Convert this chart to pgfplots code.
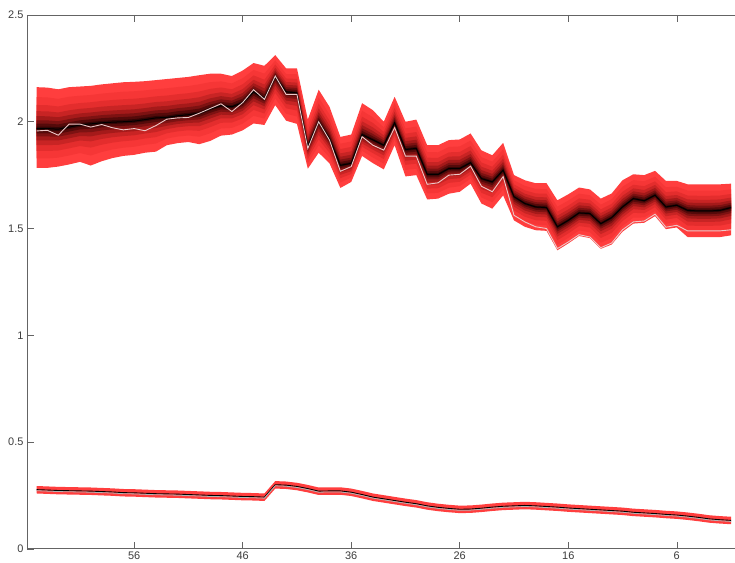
\documentclass[border=0pt]{standalone}
\usepackage{fontspec}
\setmainfont{Liberation Sans}
\usepackage{pgfplots}
\pgfplotsset{compat=1.18}
\usepackage{pgfplotstable}
\usepgfplotslibrary{fillbetween}

\pgfplotstableread{
x lo mid hi act
65 1.784 1.968 2.162 1.957
64 1.784 1.968 2.160 1.960
63 1.790 1.965 2.152 1.937
62 1.800 1.975 2.162 1.989
61 1.812 1.985 2.165 1.989
60 1.795 1.990 2.168 1.975
59 1.815 1.995 2.175 1.987
58 1.830 1.998 2.180 1.972
57 1.840 2.000 2.185 1.962
56 1.845 2.003 2.187 1.968
55 1.855 2.010 2.190 1.958
54 1.860 2.018 2.195 1.982
53 1.890 2.020 2.200 2.012
52 1.900 2.028 2.205 2.018
51 1.905 2.033 2.210 2.020
50 1.895 2.040 2.218 2.040
49 1.910 2.060 2.225 2.062
48 1.935 2.075 2.225 2.084
47 1.940 2.070 2.214 2.048
46 1.960 2.090 2.240 2.090
45 1.992 2.140 2.275 2.150
44 1.985 2.110 2.262 2.105
43 2.078 2.210 2.312 2.214
42 2.005 2.140 2.250 2.128
41 1.990 2.135 2.250 2.128
40 1.780 1.885 2.010 1.875
39 1.855 2.000 2.150 2.000
38 1.805 1.920 2.070 1.914
37 1.690 1.796 1.929 1.768
36 1.718 1.805 1.940 1.790
35 1.840 1.940 2.087 1.930
34 1.806 1.915 2.054 1.890
33 1.777 1.890 2.000 1.867
32 1.890 1.995 2.117 1.973
31 1.744 1.870 2.000 1.839
30 1.750 1.875 2.010 1.839
29 1.636 1.754 1.890 1.707
28 1.640 1.753 1.890 1.714
27 1.663 1.781 1.914 1.750
26 1.672 1.781 1.917 1.754
25 1.710 1.808 1.945 1.792
24 1.617 1.734 1.866 1.698
23 1.593 1.718 1.843 1.672
22 1.655 1.773 1.901 1.743
21 1.538 1.649 1.750 1.562
20 1.508 1.617 1.726 1.531
19 1.492 1.601 1.712 1.508
18 1.489 1.598 1.712 1.500
17 1.398 1.508 1.632 1.406
16 1.430 1.538 1.660 1.437
15 1.465 1.573 1.692 1.471
14 1.455 1.570 1.683 1.460
13 1.405 1.523 1.640 1.410
12 1.425 1.551 1.664 1.432
11 1.485 1.601 1.726 1.494
10 1.523 1.640 1.754 1.531
9 1.527 1.630 1.750 1.535
8 1.558 1.656 1.770 1.567
7 1.497 1.601 1.723 1.506
6 1.505 1.609 1.723 1.515
5 1.460 1.585 1.707 1.489
4 1.460 1.582 1.707 1.489
3 1.460 1.582 1.707 1.489
2 1.460 1.585 1.707 1.489
1 1.468 1.598 1.710 1.494
}\upperfan

\pgfplotstableread{
x lo mid hi act
65 0.259 0.277 0.294 0.272
64 0.257 0.275 0.292 0.270
63 0.255 0.273 0.290 0.268
62 0.254 0.272 0.289 0.267
61 0.253 0.271 0.288 0.266
60 0.252 0.270 0.287 0.265
59 0.250 0.268 0.285 0.263
58 0.248 0.266 0.283 0.261
57 0.245 0.263 0.280 0.258
56 0.244 0.262 0.279 0.257
55 0.242 0.260 0.277 0.255
54 0.240 0.258 0.275 0.253
53 0.239 0.257 0.274 0.252
52 0.238 0.256 0.273 0.251
51 0.236 0.254 0.271 0.249
50 0.234 0.252 0.269 0.247
49 0.232 0.250 0.267 0.245
48 0.231 0.249 0.266 0.244
47 0.229 0.247 0.264 0.242
46 0.227 0.245 0.262 0.240
45 0.226 0.244 0.261 0.239
44 0.224 0.242 0.259 0.237
43 0.282 0.300 0.317 0.295
42 0.280 0.298 0.315 0.293
41 0.274 0.292 0.309 0.287
40 0.264 0.282 0.299 0.277
39 0.252 0.270 0.287 0.265
38 0.253 0.271 0.288 0.266
37 0.253 0.271 0.288 0.266
36 0.247 0.265 0.282 0.260
35 0.236 0.254 0.271 0.249
34 0.224 0.242 0.259 0.237
33 0.216 0.234 0.251 0.229
32 0.208 0.226 0.243 0.221
31 0.200 0.218 0.235 0.213
30 0.193 0.211 0.228 0.206
29 0.183 0.201 0.218 0.196
28 0.176 0.194 0.211 0.189
27 0.171 0.189 0.206 0.184
26 0.167 0.185 0.202 0.180
25 0.168 0.186 0.203 0.181
24 0.172 0.190 0.207 0.185
23 0.177 0.195 0.212 0.190
22 0.181 0.199 0.216 0.194
21 0.183 0.201 0.218 0.196
20 0.185 0.203 0.220 0.198
19 0.183 0.201 0.218 0.196
18 0.180 0.198 0.215 0.193
17 0.177 0.195 0.212 0.190
16 0.173 0.191 0.208 0.186
15 0.170 0.188 0.205 0.183
14 0.167 0.185 0.202 0.180
13 0.164 0.182 0.199 0.177
12 0.161 0.179 0.196 0.174
11 0.158 0.176 0.193 0.171
10 0.153 0.171 0.188 0.166
9 0.150 0.168 0.185 0.163
8 0.147 0.165 0.182 0.160
7 0.143 0.161 0.178 0.156
6 0.140 0.158 0.175 0.153
5 0.135 0.153 0.170 0.148
4 0.129 0.147 0.164 0.142
3 0.122 0.140 0.157 0.135
2 0.118 0.136 0.153 0.131
1 0.115 0.133 0.150 0.128
}\lowerfan

\definecolor{fanc1}{RGB}{255,62,62}
\definecolor{fanc2}{RGB}{246,54,54}
\definecolor{fanc3}{RGB}{228,45,45}
\definecolor{fanc4}{RGB}{200,36,36}
\definecolor{fanc5}{RGB}{165,26,26}
\definecolor{fanc6}{RGB}{125,18,18}
\definecolor{fanc7}{RGB}{85,10,10}
\definecolor{fanc8}{RGB}{50,5,5}
\definecolor{actline}{RGB}{236,200,200}
\definecolor{axgray}{RGB}{100,100,100}
\definecolor{labgray}{RGB}{60,60,60}

\begin{document}
\begin{tikzpicture}
\begin{axis}[
  scale only axis,
  width=708bp, height=534bp,
  x dir=reverse,
  xmin=0.66, xmax=65.88,
  ymin=0, ymax=2.5,
  xtick={6,16,26,36,46,56},
  ytick={0,0.5,1,1.5,2,2.5},
  yticklabels={0,0.5,1,1.5,2,2.5},
  axis x line=box,
  axis y line=left,
  y axis line style={-},
  tick align=inside,
  major tick length=6.7bp,
  tick style={axgray, line width=0.5pt},
  axis line style={axgray, line width=0.6pt},
  ticklabel style={font=\fontsize{11}{12}\selectfont, text=labgray},
  /pgf/number format/assume math mode=true,
  xticklabel style={yshift=0.5bp},
  yticklabel style={xshift=0bp},
  clip=true,
  axis on top,
]
% upper fan bands, outer to inner
\foreach \lev/\f in {1/1.0,2/0.76,3/0.57,4/0.42,5/0.30,6/0.20,7/0.12,8/0.05}{
  \edef\tmp{
    \noexpand\addplot[draw=none, name path=U\lev] table[x=x, y expr=\noexpand\thisrow{mid}+\f*(\noexpand\thisrow{hi}-\noexpand\thisrow{mid})]{\noexpand\upperfan};
    \noexpand\addplot[draw=none, name path=L\lev] table[x=x, y expr=\noexpand\thisrow{mid}+\f*(\noexpand\thisrow{lo}-\noexpand\thisrow{mid})]{\noexpand\upperfan};
    \noexpand\addplot[fill=fanc\lev, draw=none] fill between[of=U\lev\space and L\lev];
  }
  \tmp
}
\addplot[black, line width=1.0pt] table[x=x, y=mid]{\upperfan};
\addplot[actline, line width=0.9pt] table[x=x, y=act]{\upperfan};

% lower fan
\addplot[draw=none, name path=LU] table[x=x, y=hi]{\lowerfan};
\addplot[draw=none, name path=LL] table[x=x, y=lo]{\lowerfan};
\addplot[fill=fanc1, draw=none] fill between[of=LU and LL];
\addplot[black, line width=0.9pt] table[x=x, y=mid]{\lowerfan};
\addplot[gray!60, line width=0.8pt] table[x=x, y=act]{\lowerfan};
\end{axis}
\path (current axis.south west) ++(-27bp,-14bp);
\path (current axis.north east) ++(0bp,15bp);
\end{tikzpicture}
\end{document}
